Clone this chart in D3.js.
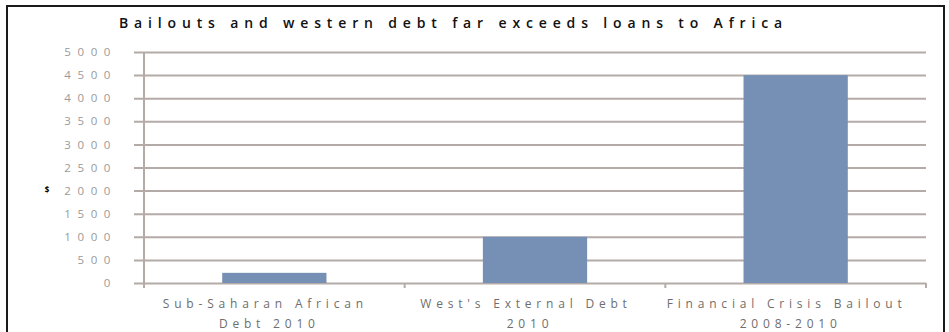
<!DOCTYPE html>
<html>
<head>
<meta charset="utf-8">
<script src="https://cdn.jsdelivr.net/npm/d3@7"></script>
<style>
  body { margin: 0; background: #fff; }
  text { font-family: "Open Sans", "DejaVu Sans", sans-serif; }
</style>
</head>
<body>
<script>
// Chart data
var categories = [
  ["Sub-Saharan African", "Debt 2010"],
  ["West's External Debt", "2010"],
  ["Financial Crisis Bailout", "2008-2010"]
];
var values = [220, 1000, 4500];
var yTicks = [0, 500, 1000, 1500, 2000, 2500, 3000, 3500, 4000, 4500, 5000];
var title = "Bailouts and western debt far exceeds loans to Africa";

var W = 949, H = 332;
var plot = {left: 144, right: 926, top: 52, bottom: 283};

var svg = d3.select("body").append("svg")
    .attr("width", W)
    .attr("height", H);

// outer frame (bottom edge runs off the picture)
svg.append("rect")
    .attr("x", 7).attr("y", 6)
    .attr("width", 937).attr("height", 340)
    .attr("fill", "none")
    .attr("stroke", "#1a1a1a")
    .attr("stroke-width", 2);

// title
svg.append("text")
    .attr("x", 119)
    .attr("y", 28)
    .attr("font-size", 14)
    .attr("font-weight", 600)
    .attr("letter-spacing", 5.85)
    .attr("fill", "#111")
    .text(title);

var x = d3.scaleBand()
    .domain(d3.range(categories.length))
    .range([plot.left, plot.right])
    .paddingInner(0.6)
    .paddingOuter(0.3);

var y = d3.scaleLinear()
    .domain([0, 5000])
    .range([plot.bottom, plot.top]);

var gridColor = "#b4aba8";

// gridlines + y ticks
var yAxis = d3.axisLeft(y)
    .tickValues(yTicks)
    .tickSize(-(plot.right - plot.left) - 10)
    .tickFormat(function(d) { return d; })
    .tickPadding(17);

var gy = svg.append("g")
    .attr("transform", "translate(" + (plot.left - 10) + ",0)")
    .call(yAxis);
gy.select(".domain").remove();
gy.selectAll(".tick line")
    .attr("x1", 0)
    .attr("x2", plot.right - plot.left + 10)
    .attr("stroke", gridColor)
    .attr("stroke-width", 2);
gy.selectAll(".tick text")
    .attr("font-size", 11.5)
    .attr("letter-spacing", 6.6)
    .attr("fill", "#9a9a9a")
    .attr("font-family", "'Open Sans', sans-serif");

// y axis line
svg.append("line")
    .attr("x1", plot.left).attr("x2", plot.left)
    .attr("y1", plot.top).attr("y2", plot.bottom + 5)
    .attr("stroke", gridColor)
    .attr("stroke-width", 2);

// bars
svg.selectAll("rect.bar")
    .data(values)
    .enter().append("rect")
    .attr("class", "bar")
    .attr("x", function(d, i) { return x(i); })
    .attr("y", function(d) { return y(d); })
    .attr("width", x.bandwidth())
    .attr("height", function(d) { return y(0) - y(d); })
    .attr("fill", "#7690b5");

// category boundary ticks
var bounds = d3.range(1, categories.length + 1).map(function(i) {
  return plot.left + (plot.right - plot.left) * i / categories.length;
});
svg.selectAll("line.xtick")
    .data(bounds)
    .enter().append("line")
    .attr("class", "xtick")
    .attr("x1", function(d) { return d; })
    .attr("x2", function(d) { return d; })
    .attr("y1", plot.bottom)
    .attr("y2", plot.bottom + 5)
    .attr("stroke", gridColor)
    .attr("stroke-width", 2);

// x labels (two lines), sit a little left of the bar centre like the original
var xl = svg.selectAll("text.xlab")
    .data(categories)
    .enter().append("text")
    .attr("class", "xlab")
    .attr("text-anchor", "middle")
    .attr("font-size", 12)
    .attr("letter-spacing", 4.8)
    .attr("fill", "#6e6e6e");
xl.append("tspan")
    .attr("x", function(d, i) { return x(i) + x.bandwidth() / 2 - 9; })
    .attr("y", 308)
    .text(function(d) { return d[0]; });
xl.append("tspan")
    .attr("x", function(d, i) { return x(i) + x.bandwidth() / 2 - 5; })
    .attr("y", 328)
    .text(function(d) { return d[1]; });

// tiny axis unit mark
svg.append("text")
    .attr("x", 47).attr("y", 193)
    .attr("text-anchor", "middle")
    .attr("font-size", 8)
    .attr("font-weight", "bold")
    .attr("fill", "#000")
    .text("$");
</script>
</body>
</html>
